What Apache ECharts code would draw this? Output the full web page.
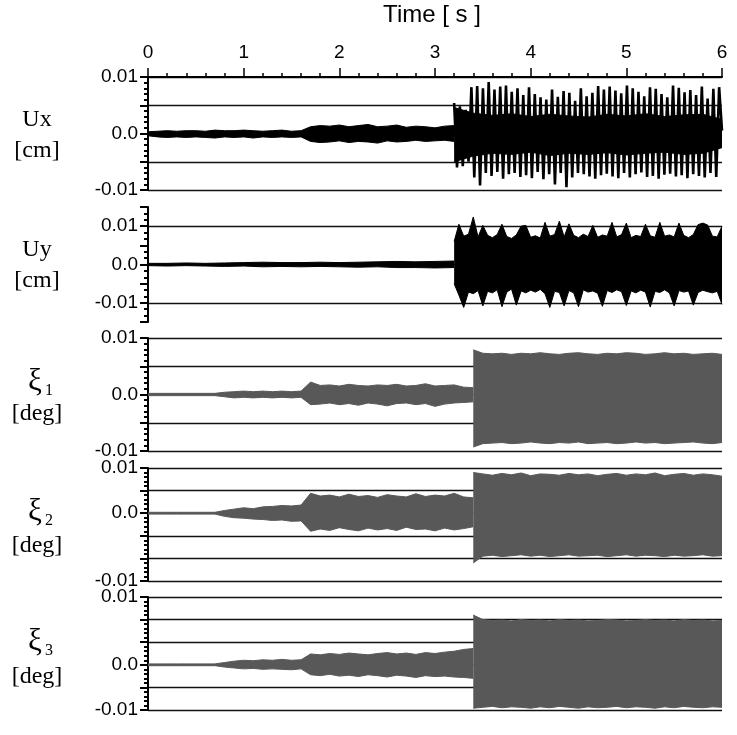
<!DOCTYPE html>
<html><head><meta charset="utf-8">
<script src="https://cdn.jsdelivr.net/npm/echarts@6/dist/echarts.min.js"></script>
<style>html,body{margin:0;padding:0;background:#fff}#c{width:737px;height:735px}</style>
</head><body><div id="c"></div>
<script>
// ---------- DATA ----------
// Time axis
const timeMin = 0, timeMax = 6;
// Ux [cm] : quiet part 0..3.2 s (envelope), active part 3.2..6 s (peaks + core envelope)
const uxQuietHi = [0.0003,0.0004,0.0005,0.0004,0.0005,0.0005,0.0004,0.0006,0.0005,0.0005,0.0006,0.0005,0.0004,0.0005,0.0006,0.0004,0.0005,0.0012,0.0014,0.0013,0.0015,0.0012,0.0014,0.0016,0.0012,0.0013,0.0015,0.0011,0.0013,0.0012,0.0010,0.0013,0.0014];
const uxQuietLo = [-0.0004,-0.0006,-0.0007,-0.0006,-0.0007,-0.0006,-0.0007,-0.0008,-0.0006,-0.0007,-0.0006,-0.0008,-0.0006,-0.0007,-0.0006,-0.0007,-0.0006,-0.0014,-0.0016,-0.0015,-0.0013,-0.0016,-0.0014,-0.0015,-0.0017,-0.0013,-0.0015,-0.0014,-0.0012,-0.0014,-0.0013,-0.0012,-0.0014];
const uxPeaks = [0.0054,-0.0060,0.0048,-0.0058,0.0042,-0.0050,
0.0082,-0.0078,0.0084,-0.0092,0.0080,-0.0070,0.0091,-0.0075,0.0078,-0.0068,
0.0083,-0.0080,0.0085,-0.0072,0.0074,-0.0070,0.0080,-0.0077,0.0068,-0.0074,
0.0082,-0.0079,0.0070,-0.0068,0.0064,-0.0081,0.0060,-0.0072,0.0078,-0.0090,
0.0065,-0.0070,0.0075,-0.0095,0.0072,-0.0078,0.0058,-0.0070,0.0080,-0.0072,
0.0066,-0.0076,0.0072,-0.0080,0.0084,-0.0074,0.0078,-0.0071,0.0083,-0.0076,
0.0076,-0.0079,0.0071,-0.0070,0.0085,-0.0078,0.0080,-0.0072,0.0074,-0.0069,
0.0066,-0.0077,0.0082,-0.0075,0.0079,-0.0080,0.0070,-0.0073,0.0064,-0.0071,
0.0085,-0.0076,0.0081,-0.0074,0.0073,-0.0079,0.0077,-0.0072,0.0068,-0.0075,
0.0083,-0.0078,0.0062,-0.0070,0.0079,-0.0077,0.0082,0.0005];
const uxCoreHi = [0.0046,0.0036,0.0032,0.0035,0.0030,0.0034,0.0031,0.0029,0.0034,0.0031,0.0035,0.0030,0.0033,0.0034,0.0025];
const uxCoreLo = [-0.0050,-0.0040,-0.0035,-0.0037,-0.0033,-0.0039,-0.0035,-0.0037,-0.0034,-0.0038,-0.0035,-0.0033,-0.0037,-0.0035,-0.0025];

// Uy [cm]
const uyQuietHi = [0.0003,0.0003,0.0004,0.0003,0.0004,0.0005,0.0006,0.0005,0.0005,0.0006,0.0005,0.0006,0.0007,0.0008,0.0007,0.0008,0.0009];
const uyQuietLo = [-0.0003,-0.0004,-0.0003,-0.0004,-0.0005,-0.0004,-0.0006,-0.0005,-0.0006,-0.0005,-0.0006,-0.0007,-0.0006,-0.0008,-0.0008,-0.0009,-0.0008];
const uyActiveHi = [0.0060,0.0105,0.0074,0.0079,0.0124,0.0072,0.0102,0.0076,0.0070,0.0078,0.0105,0.0073,0.0068,0.0077,0.0100,0.0102,0.0071,0.0075,0.0069,0.0110,0.0074,0.0078,0.0113,0.0072,0.0106,0.0076,0.0070,0.0079,0.0073,0.0102,0.0071,0.0077,0.0074,0.0110,0.0072,0.0078,0.0108,0.0070,0.0076,0.0073,0.0105,0.0075,0.0071,0.0110,0.0074,0.0077,0.0072,0.0108,0.0076,0.0070,0.0078,0.0104,0.0108,0.0103,0.0074,0.0072,0.0100];
const uyActiveLo = [-0.0050,-0.0080,-0.0112,-0.0072,-0.0076,-0.0068,-0.0108,-0.0070,-0.0074,-0.0066,-0.0110,-0.0072,-0.0064,-0.0106,-0.0069,-0.0074,-0.0067,-0.0072,-0.0065,-0.0076,-0.0112,-0.0070,-0.0073,-0.0108,-0.0068,-0.0074,-0.0110,-0.0066,-0.0072,-0.0069,-0.0075,-0.0109,-0.0068,-0.0073,-0.0066,-0.0071,-0.0107,-0.0069,-0.0074,-0.0067,-0.0072,-0.0111,-0.0070,-0.0073,-0.0066,-0.0074,-0.0108,-0.0068,-0.0072,-0.0069,-0.0106,-0.0073,-0.0067,-0.0071,-0.0074,-0.0070,-0.0104];

// xi1 [deg]
const xi1QuietHi = [0.0002,0.0002,0.0002,0.0002,0.0002,0.0002,0.0002,0.0002,0.0004,0.0005,0.0006,0.0005,0.0006,0.0005,0.0006,0.0005,0.0006,0.0022,0.0016,0.0017,0.0015,0.0018,0.0016,0.0015,0.0017,0.0016,0.0018,0.0015,0.0016,0.0019,0.0015,0.0016,0.0017,0.0013,0.0012];
const xi1QuietLo = [-0.0002,-0.0002,-0.0002,-0.0002,-0.0002,-0.0002,-0.0002,-0.0002,-0.0004,-0.0006,-0.0005,-0.0006,-0.0005,-0.0006,-0.0005,-0.0006,-0.0005,-0.0018,-0.0017,-0.0015,-0.0018,-0.0016,-0.0019,-0.0015,-0.0017,-0.0020,-0.0016,-0.0015,-0.0018,-0.0016,-0.0021,-0.0017,-0.0015,-0.0014,-0.0013];
const xi1ActiveHi = [0.0079,0.0073,0.0072,0.0073,0.0071,0.0073,0.0072,0.0074,0.0072,0.0071,0.0073,0.0074,0.0072,0.0071,0.0073,0.0072,0.0074,0.0073,0.0071,0.0072,0.0074,0.0072,0.0073,0.0071,0.0072,0.0073,0.0071];
const xi1ActiveLo = [-0.0093,-0.0087,-0.0086,-0.0085,-0.0087,-0.0086,-0.0084,-0.0086,-0.0087,-0.0085,-0.0086,-0.0084,-0.0087,-0.0086,-0.0085,-0.0087,-0.0086,-0.0084,-0.0086,-0.0085,-0.0087,-0.0086,-0.0085,-0.0084,-0.0086,-0.0087,-0.0085];

// xi2 [deg]
const xi2QuietHi = [0.0002,0.0002,0.0002,0.0002,0.0002,0.0002,0.0002,0.0002,0.0006,0.0009,0.0012,0.0010,0.0014,0.0015,0.0017,0.0016,0.0018,0.0044,0.0038,0.0040,0.0036,0.0042,0.0037,0.0039,0.0035,0.0041,0.0038,0.0036,0.0043,0.0037,0.0040,0.0038,0.0044,0.0036,0.0034];
const xi2QuietLo = [-0.0002,-0.0002,-0.0002,-0.0002,-0.0002,-0.0002,-0.0002,-0.0002,-0.0007,-0.0010,-0.0011,-0.0013,-0.0014,-0.0016,-0.0015,-0.0018,-0.0017,-0.0040,-0.0035,-0.0038,-0.0032,-0.0036,-0.0039,-0.0033,-0.0037,-0.0034,-0.0038,-0.0031,-0.0036,-0.0035,-0.0039,-0.0033,-0.0037,-0.0034,-0.0030];
const xi2ActiveHi = [0.0090,0.0087,0.0084,0.0088,0.0085,0.0089,0.0083,0.0087,0.0086,0.0084,0.0088,0.0085,0.0087,0.0083,0.0086,0.0088,0.0084,0.0087,0.0085,0.0089,0.0083,0.0086,0.0088,0.0084,0.0087,0.0085,0.0082];
const xi2ActiveLo = [-0.0110,-0.0095,-0.0093,-0.0096,-0.0094,-0.0092,-0.0095,-0.0093,-0.0096,-0.0094,-0.0092,-0.0095,-0.0094,-0.0093,-0.0096,-0.0094,-0.0092,-0.0095,-0.0093,-0.0094,-0.0096,-0.0093,-0.0095,-0.0094,-0.0092,-0.0095,-0.0094];

// xi3 [deg]
const xi3QuietHi = [0.0002,0.0002,0.0002,0.0002,0.0002,0.0002,0.0002,0.0002,0.0005,0.0008,0.0010,0.0009,0.0011,0.0010,0.0012,0.0010,0.0011,0.0024,0.0022,0.0025,0.0023,0.0026,0.0024,0.0022,0.0025,0.0027,0.0024,0.0026,0.0023,0.0027,0.0025,0.0028,0.0030,0.0034,0.0036];
const xi3QuietLo = [-0.0002,-0.0002,-0.0002,-0.0002,-0.0002,-0.0002,-0.0002,-0.0002,-0.0005,-0.0007,-0.0009,-0.0008,-0.0010,-0.0009,-0.0010,-0.0011,-0.0009,-0.0022,-0.0024,-0.0021,-0.0025,-0.0023,-0.0026,-0.0022,-0.0024,-0.0027,-0.0023,-0.0025,-0.0028,-0.0024,-0.0026,-0.0025,-0.0027,-0.0028,-0.0030];
const xi3ActiveHi = [0.0110,0.0100,0.0098,0.0099,0.0097,0.0100,0.0098,0.0099,0.0097,0.0100,0.0098,0.0099,0.0097,0.0098,0.0100,0.0099,0.0097,0.0098,0.0100,0.0098,0.0099,0.0097,0.0100,0.0098,0.0099,0.0097,0.0098];
const xi3ActiveLo = [-0.0096,-0.0094,-0.0092,-0.0095,-0.0093,-0.0094,-0.0096,-0.0093,-0.0095,-0.0092,-0.0094,-0.0096,-0.0093,-0.0095,-0.0094,-0.0092,-0.0095,-0.0093,-0.0094,-0.0096,-0.0093,-0.0095,-0.0092,-0.0094,-0.0095,-0.0093,-0.0094];

// Tick labels per panel (value -> text)
const uxTickVals = [0.01, 0, -0.01],   uxTickText = ['0.01','0.0','-0.01'];
const uyTickVals = [0.01, 0, -0.01],   uyTickText = ['0.01','0.0','-0.01'];
const xi1TickVals = [0.01, 0, -0.01],  xi1TickText = ['0.01','0.0','-0.01'];
const xi2TickVals = [0.01, 0, -0.015], xi2TickText = ['0.01','0.0','-0.01'];
const xi3TickVals = [0.015, 0, -0.01], xi3TickText = ['0.01','0.0','-0.01'];
const panelTitles = ['Ux','Uy','ξ','ξ','ξ'];
const panelSubs = ['','','1','2','3'];
const panelUnits = ['[cm]','[cm]','[deg]','[deg]','[deg]'];

// ---------- CHART ----------
const SANS = 'Liberation Sans', SERIF = 'Liberation Serif';
const GREY = '#585858';
const SEAM = 0.0001; // small overlap of the upper/lower fills so no seam shows at zero
function times(t0, t1, n){ const a=[]; for(let i=0;i<n;i++) a.push(t0+(t1-t0)*i/(n-1)); return a; }
function pairs(t, v){ return v.map((y,i)=>[t[i], y]); }
function band(gi, t0, t1, hi, lo, color){
  const t = times(t0, t1, hi.length);
  const c = {type:'line', xAxisIndex:gi, yAxisIndex:gi, symbol:'none', showSymbol:false, silent:true, z:3,
    lineStyle:{color:color, width:1}};
  return [Object.assign({}, c, {data:pairs(t, hi), areaStyle:{color:color, opacity:1, origin:-SEAM}}),
          Object.assign({}, c, {data:pairs(t, lo), areaStyle:{color:color, opacity:1, origin:SEAM}})];
}
const grids = [
  {left:148, right:15, top:77, height:113},
  {left:148, right:15, top:207, height:115},
  {left:148, right:15, top:338, height:113},
  {left:148, right:15, top:468, height:113},
  {left:148, right:15, top:597, height:113}
];
const T = 'rgba(0,0,0,0)', K = '#111';
function yAx(gi, min, max, vals, texts, lineColors, minorSplit){
  return {type:'value', gridIndex:gi, min:min, max:max, interval:0.005,
    axisLine:{show:true, onZero:false, lineStyle:{color:'#000', width:2}},
    axisTick:{show:true, length:8, lineStyle:{color:'#000', width:2}},
    minorTick:{show:true, splitNumber:minorSplit, length:4, lineStyle:{color:'#000', width:2}},
    splitLine:{show:true, lineStyle:{color:lineColors, width:1.3}},
    axisLabel:{fontSize:19, fontFamily:SANS, color:'#000', margin:10,
      formatter:function(v){ for(let i=0;i<vals.length;i++){ if(Math.abs(v-vals[i])<1e-9) return texts[i]; } return ''; }}
  };
}
const xAxes = [{type:'value', gridIndex:0, position:'top', min:timeMin, max:timeMax, interval:1,
  axisLine:{show:true, onZero:false, lineStyle:{color:'#000', width:2}},
  axisTick:{show:true, length:9, lineStyle:{color:'#000', width:1.5}},
  minorTick:{show:true, splitNumber:5, length:4, lineStyle:{color:'#000', width:1.5}},
  splitLine:{show:false},
  axisLabel:{fontSize:19, fontFamily:SANS, color:'#000', margin:15}}];
for (let i=1;i<5;i++) xAxes.push({type:'value', gridIndex:i, min:timeMin, max:timeMax, show:false});
const yAxes = [
  yAx(0, -0.01, 0.01, uxTickVals, uxTickText, [K,K,T,K,K], 5),
  yAx(1, -0.015, 0.015, uyTickVals, uyTickText, [T,K,T,T,T,K,T], 3),
  yAx(2, -0.01, 0.01, xi1TickVals, xi1TickText, [K,K,T,K,K], 5),
  yAx(3, -0.015, 0.01, xi2TickVals, xi2TickText, [K,K,K,T,K,K], 5),
  yAx(4, -0.01, 0.015, xi3TickVals, xi3TickText, [K,K,T,K,K,K], 5)
];
let series = [];
series = series.concat(band(0, 0, 3.2, uxQuietHi, uxQuietLo, '#000'));
series = series.concat(band(0, 3.2, 6.0, uxCoreHi, uxCoreLo, '#000'));
series.push({type:'line', xAxisIndex:0, yAxisIndex:0, symbol:'none', showSymbol:false, silent:true, z:4,
  lineStyle:{color:'#000', width:2.6}, data:pairs(times(3.2, 6.0, uxPeaks.length), uxPeaks)});
series = series.concat(band(1, 0, 3.2, uyQuietHi, uyQuietLo, '#000'));
series = series.concat(band(1, 3.2, 6.0, uyActiveHi, uyActiveLo, '#000'));
series = series.concat(band(2, 0, 3.4, xi1QuietHi, xi1QuietLo, GREY));
series = series.concat(band(2, 3.4, 6.0, xi1ActiveHi, xi1ActiveLo, GREY));
series = series.concat(band(3, 0, 3.4, xi2QuietHi, xi2QuietLo, GREY));
series = series.concat(band(3, 3.4, 6.0, xi2ActiveHi, xi2ActiveLo, GREY));
series = series.concat(band(4, 0, 3.4, xi3QuietHi, xi3QuietLo, GREY));
series = series.concat(band(4, 3.4, 6.0, xi3ActiveHi, xi3ActiveLo, GREY));

const titleY = [120, 250, 382, 512, 642];
const unitY = [151, 281, 414, 546, 677];
const graphic = [{type:'text', x:432, y:15, style:{text:'Time [ s ]', font:'24px "Liberation Sans"', fill:'#000', align:'center', verticalAlign:'middle'}}];
for (let i=0;i<5;i++){
  const isXi = panelSubs[i] !== '';
  graphic.push({type:'text', x: isXi ? 35 : 37, y:titleY[i], style:{text:panelTitles[i], font:(isXi?'31px':'24px')+' "Liberation Serif"', fill:'#000', align:'center', verticalAlign:'middle'}});
  if (isXi) graphic.push({type:'text', x:49, y:titleY[i]+9, style:{text:panelSubs[i], font:'16px "Liberation Serif"', fill:'#000', align:'center', verticalAlign:'middle'}});
  graphic.push({type:'text', x:37, y:unitY[i], style:{text:panelUnits[i], font:'24px "Liberation Serif"', fill:'#000', align:'center', verticalAlign:'middle'}});
}

const chart = echarts.init(document.getElementById('c'), null, {renderer:'canvas'});
chart.setOption({animation:false, backgroundColor:'#fff', grid:grids, xAxis:xAxes, yAxis:yAxes, series:series, graphic:graphic});
</script></body></html>
